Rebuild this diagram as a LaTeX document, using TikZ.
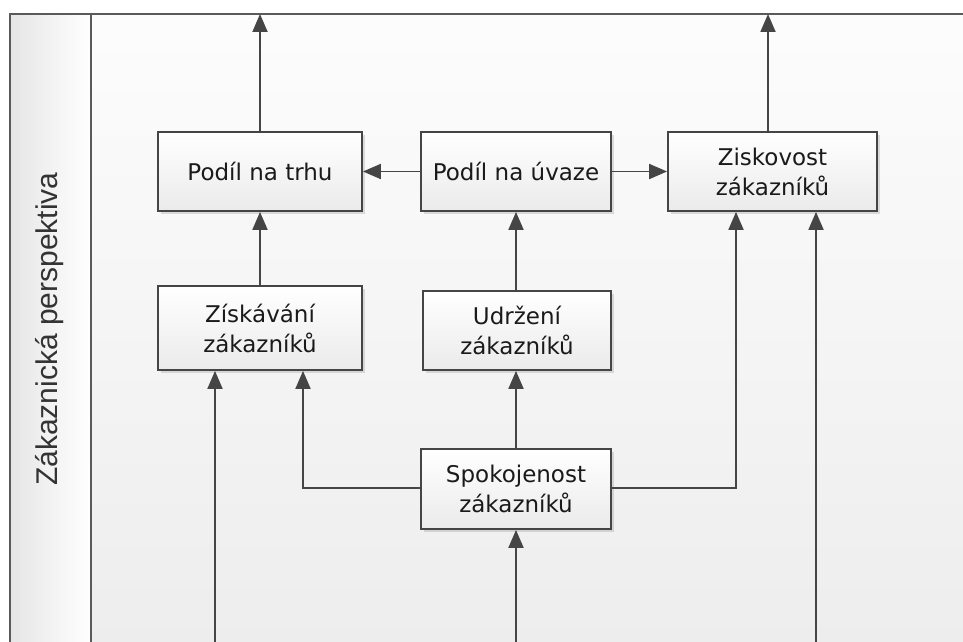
\documentclass[tikz,border=0pt]{standalone}
\usepackage{fontspec}
\setmainfont{DejaVu Sans}
\newfontfamily\lanefont{Liberation Sans}
\usetikzlibrary{arrows.meta,shadows}
\definecolor{linec}{HTML}{454545}
\definecolor{framec}{HTML}{5A5A5A}
\definecolor{textc}{HTML}{1A1A1A}
\tikzset{
  boxnode/.style={draw=linec, line width=1.8pt, top color=white, bottom color=black!8,
    text=textc, align=center, font=\fontsize{23}{30}\selectfont, inner sep=0pt,
    drop shadow={shadow xshift=2.5pt, shadow yshift=-2.5pt, fill=black, opacity=0.12}},
  conn/.style={draw=linec, line width=1.9pt, -{Triangle[length=18pt,width=15pt]}},
  framel/.style={draw=framec, line width=1.6pt}
}
\begin{document}
\begin{tikzpicture}[x=1pt,y=-1pt]
\useasboundingbox (0,0) rectangle (963,642);
\fill[white] (0,0) rectangle (963,642);
% backgrounds
\shade[left color=black!10, right color=white] (10,14) rectangle (91,642);
\shade[top color=black!1, bottom color=black!7] (91,14) rectangle (963,642);
% frame
\draw[framel] (10,642) -- (10,14) -- (963,14);
\draw[framel] (91,14) -- (91,642);
\node[rotate=90, font=\lanefont\fontsize{30}{34}\selectfont, text=black!80] (lane) at (50,329) {Zákaznická perspektiva};
% nodes
\node[boxnode, minimum width=204pt, minimum height=79pt] (trh) at (260,171.5) {Podíl na trhu};
\node[boxnode, minimum width=190pt, minimum height=79pt] (uvaha) at (516,171.5) {Podíl na úvaze};
\node[boxnode, minimum width=209pt, minimum height=79pt] (zisk) at (772.5,171.5) {Ziskovost\\zákazníků};
\node[boxnode, minimum width=204pt, minimum height=84pt] (ziskavani) at (260,328) {Získávání\\zákazníků};
\node[boxnode, minimum width=188pt, minimum height=79pt] (udrzeni) at (517,330.5) {Udržení\\zákazníků};
\node[boxnode, minimum width=190pt, minimum height=80pt] (spokoj) at (516,489) {Spokojenost\\zákazníků};
% coordinates
\coordinate (top1) at (260,14);
\coordinate (top2) at (768,14);
\coordinate (b1) at (215,642);
\coordinate (b2) at (516,642);
\coordinate (b3) at (816,642);
\coordinate (lt) at (303,488);
\coordinate (rt) at (736,488);
% connectors
\draw[conn] (trh.north) -- (top1);
\draw[conn] (zisk.north -| top2) -- (top2);
\draw[conn] (uvaha.west) -- (trh.east);
\draw[conn] (uvaha.east) -- (zisk.west);
\draw[conn] (ziskavani.north) -- (trh.south);
\draw[conn] (udrzeni.north -| uvaha.south) -- (uvaha.south);
\draw[conn] (spokoj.north) -- (udrzeni.south -| spokoj.north);
\draw[conn] (spokoj.west |- lt) -- (lt) -- (ziskavani.south -| lt);
\draw[conn] (spokoj.east |- rt) -- (rt) -- (zisk.south -| rt);
\draw[conn] (b1) -- (ziskavani.south -| b1);
\draw[conn] (b2) -- (spokoj.south);
\draw[conn] (b3) -- (zisk.south -| b3);
\end{tikzpicture}
\end{document}
